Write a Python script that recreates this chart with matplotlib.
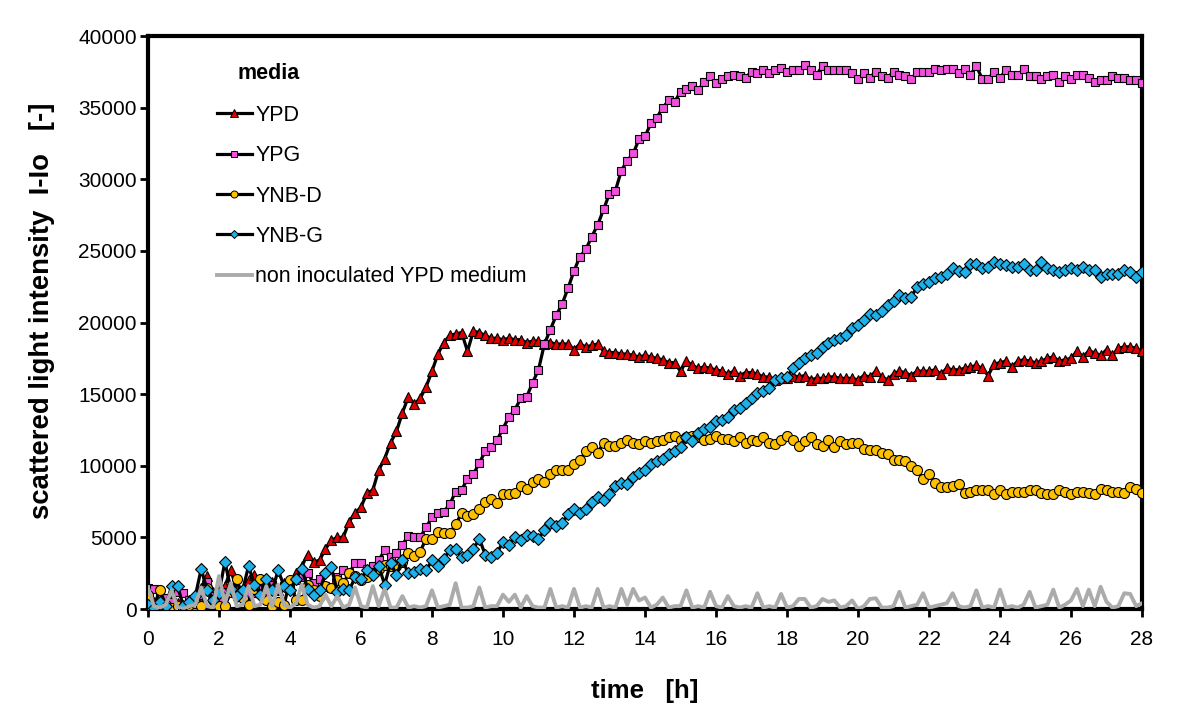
import numpy as np
import matplotlib
matplotlib.use("Agg")
import matplotlib.pyplot as plt
from matplotlib.lines import Line2D

plt.rcParams["font.family"] = ["Liberation Sans", "DejaVu Sans"]

# sampling every 10 min, 0 .. 28 h
hours = np.arange(169) / 6.0

# scattered light intensity, in thousands (one row per hour, 6 samples each)
ypd = [
    0.2, 0.5, 0.1, 0.3, 0.8, 0.4,
    0.2, 0.6, 1.0, 1.5, 2.3, 1.2,
    0.8, 1.6, 2.7, 1.4, 1.0, 2.0,
    2.4, 1.2, 1.6, 1.9, 1.3, 1.8,
    1.5, 2.5, 3.0, 3.8, 3.3, 3.4,
    4.2, 4.8, 5.0, 5.0, 6.1, 6.7,
    7.1, 8.1, 8.3, 9.7, 10.5, 11.6,
    12.4, 13.7, 14.8, 14.3, 14.7, 15.5,
    16.6, 17.8, 18.6, 19.1, 19.2, 19.3,
    18.0, 19.4, 19.3, 19.1, 18.9, 18.9,
    18.8, 18.9, 18.8, 18.8, 18.6, 18.7,
    18.7, 18.5, 18.6, 18.5, 18.5, 18.5,
    18.1, 18.5, 18.3, 18.4, 18.5, 18.0,
    17.9, 17.9, 17.8, 17.8, 17.7, 17.6,
    17.7, 17.6, 17.5, 17.4, 17.2, 17.2,
    16.6, 17.3, 17.0, 16.8, 16.9, 16.8,
    16.7, 16.6, 16.4, 16.6, 16.3, 16.5,
    16.5, 16.4, 16.2, 16.2, 16.0, 16.1,
    16.1, 16.3, 16.2, 16.3, 16.0, 16.1,
    16.1, 16.2, 16.2, 16.1, 16.1, 16.1,
    16.0, 16.3, 16.2, 16.6, 16.2, 16.0,
    16.4, 16.6, 16.5, 16.3, 16.6, 16.6,
    16.6, 16.7, 16.4, 16.8, 16.7, 16.7,
    16.8, 16.9, 17.0, 16.8, 16.3, 17.1,
    17.2, 17.3, 16.9, 17.3, 17.4, 17.3,
    17.2, 17.3, 17.5, 17.6, 17.3, 17.4,
    17.5, 18.0, 17.6, 18.0, 17.9, 17.7,
    18.1, 17.7, 18.2, 18.3, 18.3, 18.2,
    18.0,
]

ypg = [
    1.5, 1.4, 1.0, 0.8, 0.5, 1.2,
    1.1, 0.6, 0.1, 1.0, 1.9, 0.9,
    0.6, 1.2, 1.5, 0.9, 1.3, 0.9,
    1.1, 1.5, 1.0, 1.7, 1.3, 1.6,
    1.5, 2.0, 2.2, 2.5, 1.8, 2.1,
    1.6, 1.5, 2.2, 2.7, 2.5, 3.2,
    3.2, 2.8, 3.0, 3.4, 4.1, 3.6,
    3.9, 4.5, 5.1, 5.0, 5.0, 5.7,
    6.4, 6.7, 6.8, 7.3, 8.2, 8.3,
    9.1, 9.4, 10.2, 11.0, 11.3, 11.8,
    12.6, 13.4, 13.9, 14.7, 14.8, 15.8,
    16.7, 18.5, 19.5, 20.5, 21.3, 22.4,
    23.6, 24.6, 25.1, 26.0, 26.8, 27.9,
    29.0, 29.2, 30.6, 31.3, 31.8, 32.8,
    33.0, 33.9, 34.3, 35.0, 35.5, 35.4,
    36.1, 36.3, 36.5, 36.2, 36.8, 37.2,
    36.7, 37.0, 37.2, 37.3, 37.2, 37.1,
    37.5, 37.4, 37.6, 37.4, 37.6, 37.8,
    37.5, 37.6, 37.6, 38.0, 37.6, 37.3,
    37.9, 37.6, 37.6, 37.6, 37.6, 37.4,
    37.0, 37.4, 37.1, 37.5, 37.2, 37.1,
    37.5, 37.3, 37.2, 37.0, 37.5, 37.5,
    37.5, 37.7, 37.6, 37.7, 37.7, 37.4,
    37.7, 37.3, 37.9, 37.0, 37.0, 37.5,
    37.1, 37.6, 37.3, 37.3, 37.7, 37.2,
    37.2, 37.0, 37.2, 37.3, 36.8, 37.2,
    37.0, 37.3, 37.3, 37.1, 36.8, 36.9,
    36.9, 37.2, 37.1, 37.1, 36.9, 36.9,
    36.7,
]

ynb_d = [
    1.0, 0.2, 1.3, 0.3, 0.1, 0.2,
    0.1, 0.3, 0.4, 0.2, 1.5, 0.6,
    0.2, 0.2, 1.2, 2.1, 0.8, 0.3,
    1.4, 2.1, 0.6, 0.2, 0.5, 0.3,
    2.0, 0.6, 0.6, 1.7, 1.3, 0.9,
    1.6, 1.5, 2.0, 1.8, 2.5, 2.3,
    2.0, 2.2, 2.5, 2.8, 3.1, 3.0,
    3.0, 3.3, 3.9, 3.7, 4.0, 4.9,
    4.9, 5.4, 5.3, 5.3, 5.9, 6.7,
    6.5, 6.6, 7.0, 7.5, 7.7, 7.4,
    8.0, 8.0, 8.1, 8.6, 8.4, 8.9,
    9.1, 8.9, 9.4, 9.7, 9.7, 9.7,
    10.1, 10.4, 11.0, 11.3, 10.9, 11.6,
    11.4, 11.4, 11.6, 11.8, 11.6, 11.5,
    11.7, 11.6, 11.7, 11.8, 12.0, 12.1,
    11.8, 12.0, 12.1, 12.0, 11.8, 11.9,
    12.1, 11.9, 11.9, 11.7, 12.0, 11.6,
    11.8, 11.7, 12.0, 11.6, 11.5, 11.8,
    12.1, 11.8, 11.4, 11.7, 12.0, 11.5,
    11.4, 11.8, 11.3, 11.7, 11.5, 11.6,
    11.6, 11.2, 11.1, 11.1, 10.9, 10.8,
    10.4, 10.4, 10.3, 10.0, 9.7, 9.1,
    9.4, 8.8, 8.5, 8.5, 8.6, 8.7,
    8.1, 8.2, 8.3, 8.3, 8.3, 8.0,
    8.3, 8.0, 8.2, 8.2, 8.2, 8.3,
    8.3, 8.1, 8.0, 8.0, 8.3, 8.2,
    8.0, 8.2, 8.2, 8.1, 8.0, 8.4,
    8.3, 8.2, 8.2, 8.1, 8.5, 8.4,
    8.1,
]

ynb_g = [
    0.3, 0.1, 0.5, 0.2, 1.6, 1.6,
    0.2, 0.5, 0.9, 2.8, 1.3, 0.6,
    1.1, 3.3, 1.4, 0.9, 1.3, 3.0,
    1.7, 1.0, 2.1, 1.3, 2.7, 1.6,
    1.3, 2.1, 2.8, 1.4, 1.0, 1.3,
    2.5, 2.9, 1.2, 1.4, 1.3, 2.2,
    2.1, 2.7, 2.4, 3.0, 1.7, 3.2,
    2.4, 3.4, 2.5, 2.6, 2.8, 2.7,
    3.4, 3.0, 3.5, 4.1, 4.2, 3.6,
    3.8, 4.2, 4.9, 3.8, 3.6, 3.9,
    4.7, 4.5, 5.0, 4.8, 5.2, 5.1,
    4.9, 5.5, 6.0, 5.8, 6.0, 6.6,
    7.0, 6.7, 7.0, 7.5, 7.8, 7.6,
    8.0, 8.6, 8.8, 8.7, 9.2, 9.5,
    9.7, 10.1, 10.3, 10.5, 10.8, 11.0,
    11.3, 12.0, 11.7, 12.3, 12.6, 12.7,
    13.1, 13.2, 13.4, 13.9, 14.0, 14.4,
    14.7, 15.1, 15.2, 15.4, 16.0, 16.1,
    16.2, 16.8, 17.2, 17.5, 17.7, 17.9,
    18.3, 18.6, 18.8, 18.9, 19.1, 19.6,
    19.8, 20.2, 20.6, 20.5, 20.8, 21.2,
    21.5, 21.9, 21.7, 21.8, 22.5, 22.7,
    22.8, 23.1, 23.2, 23.4, 23.8, 23.6,
    23.5, 24.1, 24.1, 23.8, 23.9, 24.2,
    24.1, 24.0, 23.9, 23.9, 24.1, 23.7,
    23.7, 24.2, 23.8, 23.7, 23.5, 23.7,
    23.8, 23.7, 23.9, 23.7, 23.7, 23.2,
    23.4, 23.4, 23.4, 23.7, 23.5, 23.2,
    23.5,
]

blank_ypd = [
    1.5, 0.2, 0.1, 0.3, 1.3, 0.1,
    0.0, 0.2, 0.3, 1.5, 0.2, 0.1,
    2.3, 0.4, 1.8, 0.2, 0.3, 1.6,
    0.2, 0.3, 1.6, 0.2, 1.7, 0.3,
    0.1, 0.4, 1.7, 0.3, 0.1, 0.2,
    1.0, 0.2, 0.9, 0.1, 0.3, 1.5,
    0.2, 0.1, 1.6, 0.2, 1.4, 0.1,
    0.1, 0.9, 0.1, 0.2, 0.1, 0.2,
    1.3, 0.1, 0.2, 0.3, 1.8, 0.1,
    0.1, 0.2, 1.5, 0.1, 0.2, 0.2,
    1.0, 0.5, 1.0, 0.1, 0.9, 0.2,
    0.1, 0.1, 1.4, 0.1, 0.2, 0.1,
    1.4, 0.1, 0.2, 0.1, 1.4, 0.1,
    0.2, 0.1, 1.4, 0.3, 1.4, 0.6,
    0.8, 0.1, 0.3, 0.8, 0.1, 0.2,
    0.2, 1.3, 0.1, 0.2, 0.1, 1.2,
    0.2, 0.1, 0.9, 0.2, 0.1, 0.2,
    0.1, 1.1, 0.1, 0.2, 0.1, 1.05,
    0.1, 0.2, 0.7, 0.7, 0.1, 0.2,
    0.7, 0.5, 0.6, 0.1, 0.2, 0.6,
    0.0, 0.2, 0.7, 0.75, 0.1, 0.1,
    0.2, 1.2, 0.1, 0.2, 0.3, 1.1,
    0.1, 0.2, 0.3, 0.4, 1.1, 0.2,
    0.1, 0.2, 1.3, 0.1, 0.2, 0.1,
    1.35, 0.1, 0.2, 0.1, 0.3, 1.2,
    0.1, 0.2, 0.3, 1.35, 0.1, 0.3,
    0.6, 1.4, 0.2, 1.35, 0.2, 1.55,
    0.5, 0.1, 0.2, 1.1, 1.05, 0.2,
    0.4,
]

labels = ["YPD", "YPG", "YNB-D", "YNB-G", "non inoculated YPD medium"]

series = [
    (ypd, "^", "#E00000", 7.5),
    (ypg, "s", "#F050DC", 6.0),
    (ynb_d, "o", "#FFC000", 7.2),
    (ynb_g, "D", "#1EB0E8", 5.8),
]

fig = plt.figure(figsize=(12, 7.22), dpi=100)
ax = fig.add_axes([0.1233, 0.1565, 0.8284, 0.7936])

for (vals, mk, col, ms) in series:
    ax.plot(hours, np.array(vals) * 1000, color="black", lw=2.3,
            marker=mk, markersize=ms, markerfacecolor=col,
            markeredgecolor="black", markeredgewidth=0.8, zorder=3)

ax.plot(hours, np.array(blank_ypd) * 1000, color="#ABABAB", lw=2.8, zorder=4)

ax.set_xlim(0, 28)
ax.set_ylim(0, 40000)
ax.set_xticks(np.arange(0, 29, 2))
ax.set_yticks(np.arange(0, 40001, 5000))
ax.tick_params(direction="out", length=6, width=2, labelsize=15)
ax.tick_params(axis="y", pad=2)
ax.tick_params(axis="x", pad=9)
for s in ax.spines.values():
    s.set_linewidth(3)

ax.set_xlabel("time   [h]", fontsize=18.5, fontweight="bold", labelpad=22)
ax.set_ylabel("scattered light intensity  I-Io   [-]", fontsize=19.8,
              fontweight="bold")
ax.yaxis.set_label_coords(-0.094, 0.52)

# legend
handles = [
    Line2D([], [], color="black", lw=2.3, marker=mk, markersize=ms * 0.7,
           markerfacecolor=col, markeredgecolor="black", markeredgewidth=0.7)
    for (_, mk, col, ms) in series
]
handles.append(Line2D([], [], color="#ABABAB", lw=2.8))
ax.legend(handles, labels, loc="upper left", bbox_to_anchor=(0.069, 0.88),
          frameon=False, fontsize=15.5, handlelength=1.65, handletextpad=0.15,
          labelspacing=0.9, borderpad=0, borderaxespad=0)
ax.text(0.0905, 0.935, "media", transform=ax.transAxes, fontsize=15.5,
        fontweight="bold", va="center", ha="left")

fig.savefig("out.png", dpi=100)
